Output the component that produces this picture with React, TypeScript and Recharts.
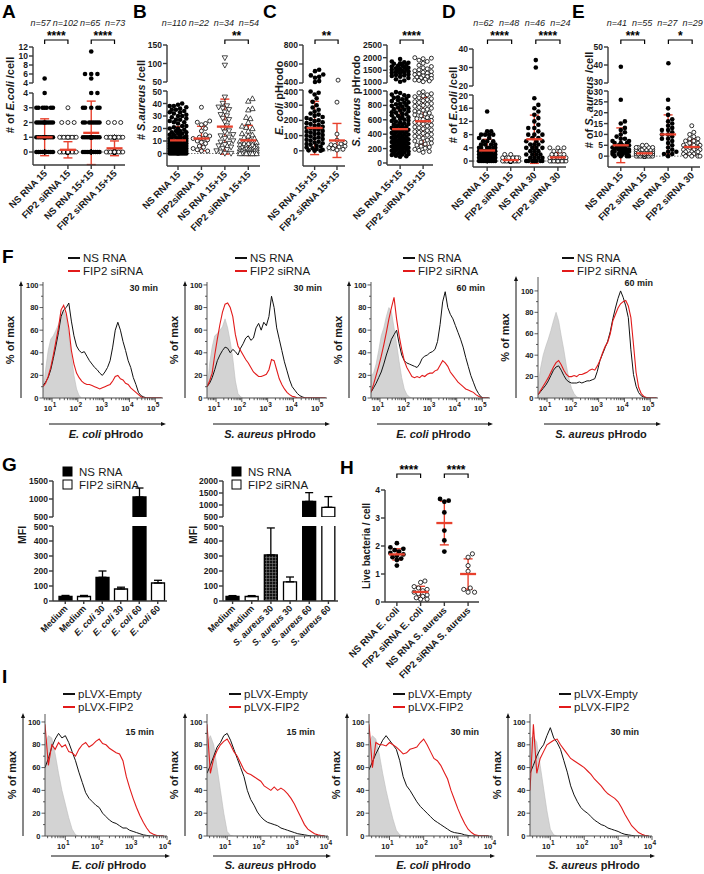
import React from 'react';
import {
  ComposedChart, Scatter, XAxis, YAxis, ErrorBar, ReferenceLine, Bar, Cell, Area, Line,
} from 'recharts';

const FONT = '"Liberation Sans", Arial, Helvetica, sans-serif';
const SD_RED = '#e8402c';
const CURVE_RED = '#e21b1b';
const INK = '#1a1a1a';

type Freq = [number, number][];
const expand = (f: Freq) => f.flatMap(([v, c]) => Array(c).fill(v) as number[]);

// ---------- A: # of E. coli per cell (value, count)
const aCats = ['NS RNA 15', 'FIP2 siRNA 15', 'NS RNA 15+15', 'FIP2 siRNA 15+15'];
const aN = ['n=57', 'n=102', 'n=65', 'n=73'];
const aNs15: Freq = [[0, 22], [1, 16], [2, 10], [3, 7], [4, 1], [5, 1]];
const aFip15: Freq = [[0, 88], [1, 10], [2, 3], [3, 1]];
const aNs1515: Freq = [[0, 27], [1, 18], [2, 8], [3, 5], [4, 2], [5, 1], [6, 3], [11, 1]];
const aFip1515: Freq = [[0, 55], [1, 15], [2, 3]];
const aMean = [1.0, 0.15, 1.3, 0.25];
const aSd = [1.25, 0.55, 2.15, 0.5];

// ---------- B: # S. aureus per cell
const bCats = ['NS RNA 15', 'FIP2siRNA 15', 'NS RNA 15+15', 'FIP2 siRNA 15+15'];
const bN = ['n=110', 'n=22', 'n=34', 'n=54'];
const bNs15: Freq = [[0, 10], [1, 7], [2, 7], [3, 6], [4, 5], [5, 5], [6, 5], [7, 5], [8, 4], [9, 4], [10, 4], [11, 3], [12, 3], [13, 3], [14, 2], [15, 2], [16, 2], [17, 2], [18, 2], [19, 1], [20, 2], [21, 1], [22, 2], [24, 1], [25, 2], [26, 1], [27, 2], [28, 1], [29, 1], [30, 2], [31, 1], [32, 1], [33, 2], [34, 1], [35, 2], [36, 1], [37, 1], [38, 2], [39, 1], [40, 1]];
const bFip15 = [37, 26, 25, 24, 23, 20, 18, 15, 14, 13, 12, 12, 11, 10, 9, 8, 6, 5, 4, 3, 2, 2];
const bNs1515 = [115, 95, 45, 40, 38, 37, 36, 35, 33, 31, 30, 28, 27, 25, 22, 20, 18, 17, 15, 14, 13, 12, 10, 9, 8, 7, 6, 5, 4, 3, 2, 1, 0, 0];
const bFip1515 = [44, 42, 36, 35, 29, 28, 25, 22, 21, 20, 18, 16, 15, 14, 13, 12, 11, 10, 10, 9, 9, 8, 8, 7, 7, 6, 6, 5, 5, 5, 4, 4, 4, 3, 3, 3, 3, 2, 2, 2, 2, 1, 1, 1, 1, 1, 0, 0, 0, 0, 0, 0, 0, 0];
const bMean = [10.5, 12, 21.5, 10.5];
const bSd = [11, 9.8, 22, 12];

// ---------- C: pHrodo intensity
const cCats = ['NS RNA 15+15', 'FIP2 siRNA 15+15'];
const cEcoliNs = [540, 525, 490, 480, 465, 455, 420, 410, 390, 382, 370, 345, 322, 300, 285, 270, 258, 245, 238, 230, 222, 215, 208, 200, 195, 188, 182, 176, 170, 164, 158, 152, 147, 142, 137, 131, 126, 120, 115, 110, 104, 99, 94, 88, 83, 78, 72, 66, 60, 55, 50, 45, 40, 34, 28, 22, 17, 12, 7, 3, 0, 0];
const cEcoliFip = [430, 320, 110, 70, 55, 45, 40, 35, 30, 25, 20, 15, 10, 5];
const cEcoliMean = [150, 68];
const cEcoliSd = [175, 112];
const cAureusNs = [1950, 1850, 1820, 1800, 1780, 1760, 1720, 1700, 1680, 1650, 1620, 1600, 1580, 1560, 1540, 1520, 1500, 1480, 1460, 1440, 1420, 1400, 1380, 1350, 1320, 1300, 1280, 1250, 1200, 1150, 1100, 1050,
  985, 972, 950, 941, 930, 912, 905, 890, 884, 871, 860, 842, 838, 821, 815, 800, 794, 781, 770, 762, 748, 741, 730, 718, 705, 699, 688, 676, 662, 655, 641, 633, 620, 612, 604, 590, 583, 575, 561, 552, 540, 533, 525, 512, 505, 496, 488, 480, 471, 462, 455, 447, 440, 431, 425, 418, 410, 402, 395, 388, 380, 372, 365, 360, 352, 345, 338, 330, 322, 316, 310, 303, 296, 290, 284, 277, 270, 263, 255, 249, 242, 236, 230, 224, 217, 210, 204, 197, 190, 184, 176, 170, 163, 155, 148, 141, 133, 126, 118, 110, 102, 95, 88];
const cAureusFip = [2000, 1980, 1960, 1900, 1850, 1780, 1700, 1650, 1600, 1560, 1520, 1480, 1450, 1420, 1390, 1360, 1330, 1300, 1280, 1250, 1230, 1200, 1180, 1150, 1120, 1100, 1080, 1050,
  990, 975, 962, 948, 930, 921, 905, 893, 880, 866, 852, 840, 826, 815, 800, 788, 772, 760, 745, 733, 720, 706, 694, 680, 668, 655, 641, 630, 616, 604, 590, 578, 563, 551, 540, 526, 513, 500, 488, 475, 461, 450, 437, 425, 411, 398, 386, 372, 360, 345, 332, 318, 305, 290, 276, 262, 248, 233, 220, 205, 190, 176, 160, 148];
const cAureusMean = [470, 580];
const cAureusSd = [285, 330];

// ---------- D: # of E. coli per cell
const dCats = ['NS RNA 15', 'FIP2 siRNA 15', 'NS RNA 30', 'FIP2 siRNA 30'];
const dN = ['n=62', 'n=48', 'n=46', 'n=24'];
const dNs15: Freq = [[0, 14], [1, 10], [2, 9], [3, 7], [4, 6], [5, 4], [6, 3], [7, 2], [8, 4], [9, 2], [15, 1]];
const dFip15: Freq = [[0, 38], [1, 8], [2, 2]];
const dNs30: Freq = [[0, 7], [1, 4], [2, 4], [3, 3], [4, 4], [5, 3], [6, 3], [7, 2], [8, 3], [9, 1], [10, 2], [11, 1], [12, 1], [13, 1], [14, 1], [15, 1], [16, 1], [17, 1], [19, 1], [30, 1], [34, 1]];
const dFip30: Freq = [[0, 10], [1, 6], [2, 3], [3, 2], [4, 3]];
const dMean = [3.2, 0.3, 6.6, 1.1];
const dSd = [3.4, 0.6, 7.3, 1.5];

// ---------- E: # of S. aureus per cell
const eCats = ['NS RNA 15', 'FIP2 siRNA 15', 'NS RNA 30', 'FIP2 siRNA 30'];
const eN = ['n=41', 'n=55', 'n=27', 'n=29'];
const eNs15: Freq = [[0, 4], [1, 4], [2, 5], [3, 5], [4, 4], [5, 3], [6, 3], [7, 2], [8, 2], [9, 1], [10, 1], [11, 1], [12, 1], [13, 1], [15, 1], [16, 1], [26, 1], [39, 1]];
const eFip15: Freq = [[0, 15], [1, 15], [2, 10], [3, 8], [4, 5], [5, 2]];
const eNs30 = [41, 26, 22, 19, 17, 16, 15, 14, 13, 12, 12, 11, 10, 10, 9, 8, 8, 7, 6, 5, 4, 3, 2, 2, 1, 1, 0];
const eFip30 = [14, 11, 10, 9, 8, 8, 7, 7, 6, 6, 5, 5, 5, 4, 4, 4, 3, 3, 3, 2, 2, 2, 1, 1, 1, 0, 0, 0, 0];
const eMean = [5, 1.3, 10, 4.2];
const eSd = [8, 1.4, 9, 3.5];

// ---------- H: live bacteria per cell
const hCats = ['NS RNA E. coli', 'FIP2 siRNA E. coli', 'NS RNA S. aureus', 'FIP2 siRNA S. aureus'];
const hNsEcoli = [2.1, 1.95, 1.9, 1.85, 1.8, 1.75, 1.7, 1.65, 1.6, 1.55, 1.5, 1.3];
const hFipEcoli = [0.75, 0.7, 0.55, 0.5, 0.45, 0.4, 0.35, 0.3, 0.25, 0.2, 0.15, 0.1, 0.1];
const hNsAureus = [3.68, 3.62, 3.58, 3.2, 2.55, 2.2, 1.8];
const hFipAureus = [1.72, 1.6, 1.3, 1.1, 0.5, 0.45, 0.35, 0.35];
const hMean = [1.7, 0.36, 2.82, 1.0];
const hSd = [0.2, 0.2, 0.78, 0.54];

// ---------- G: MFI bars
const gLeftLabels = ['Medium', 'Medium', 'E. coli 30', 'E. coli 30', 'E. coli 60', 'E. coli 60'];
const gLeftMfi = [30, 30, 158, 80, 1055, 120];
const gLeftErr = [7, 7, 42, 12, 250, 18];
const gRightLabels = ['Medium', 'Medium', 'S. aureus 30', 'S. aureus 30', 'S. aureus 60', 'S. aureus 60'];
const gRightMfi = [30, 30, 307, 128, 1150, 905];
const gRightErr = [6, 6, 180, 32, 365, 445];
const gLeftKind = ['ns', 'fip', 'ns', 'fip', 'ns', 'fip'];
const gRightKind = ['ns', 'fip', 'hatch', 'fip', 'ns', 'fip'];

// ---------- F: histograms, x = log10 intensity
const fLog = Array.from({ length: 47 }, (_, i) => Math.round((0.65 + i * 0.1) * 100) / 100);
const f1Black = [11, 14, 18, 25, 35, 46, 58, 72, 78, 80, 84, 68, 55, 46, 42, 40, 41, 37, 33, 30, 27, 25, 22, 20, 23, 27, 33, 45, 60, 67, 60, 50, 42, 33, 27, 18, 12, 5, 2, 1, 0, 0, 0, 0, 0, 0, 0];
const f1Red = [10, 13, 19, 27, 38, 50, 62, 78, 82, 75, 62, 42, 30, 22, 18, 15, 13, 12, 12, 11, 10, 9, 8, 9, 10, 11, 12, 15, 19, 20, 17, 16, 13, 12, 9, 7, 5, 3, 1, 0, 0, 0, 0, 0, 0, 0, 0];
const f1Gray = [5, 25, 42, 52, 55, 60, 65, 72, 77, 72, 55, 38, 20, 8, 2, 0, 0, 0, 0, 0, 0, 0, 0, 0, 0, 0, 0, 0, 0, 0, 0, 0, 0, 0, 0, 0, 0, 0, 0, 0, 0, 0, 0, 0, 0, 0, 0];
const f2Black = [10, 13, 18, 25, 33, 38, 42, 45, 44, 40, 43, 41, 38, 44, 48, 53, 55, 51, 53, 62, 66, 60, 67, 64, 72, 90, 80, 62, 52, 42, 32, 24, 16, 10, 7, 4, 2, 1, 0, 0, 0, 0, 0, 0, 0, 0, 0];
const f2Red = [10, 15, 22, 38, 52, 65, 76, 83, 84, 80, 72, 56, 46, 42, 38, 34, 31, 27, 23, 21, 19, 19, 20, 21, 25, 34, 33, 25, 17, 12, 8, 5, 3, 1.5, 1, 0, 0, 0, 0, 0, 0, 0, 0, 0, 0, 0, 0];
const f2Gray = [5, 30, 45, 55, 57, 60, 63, 70, 62, 50, 35, 15, 4, 1, 0, 0, 0, 0, 0, 0, 0, 0, 0, 0, 0, 0, 0, 0, 0, 0, 0, 0, 0, 0, 0, 0, 0, 0, 0, 0, 0, 0, 0, 0, 0, 0, 0];
const f3Black = [5, 9, 13, 18, 23, 30, 38, 45, 52, 56, 60, 48, 38, 33, 31, 30, 29, 28, 27, 30, 35, 37, 38, 40, 41, 43, 50, 65, 85, 94, 80, 74, 70, 64, 58, 52, 45, 36, 28, 20, 14, 8, 4, 1, 0, 0, 0];
const f3Red = [5, 12, 20, 28, 37, 47, 58, 70, 80, 89, 70, 55, 43, 33, 27, 23, 19, 18, 19, 18, 20, 19, 21, 22, 22, 24, 25, 29, 33, 31, 28, 23, 20, 17, 14, 12, 10, 8, 7, 6, 5, 3, 1.5, 0.5, 0, 0, 0];
const f3Gray = [20, 22, 30, 42, 55, 62, 72, 80, 76, 62, 48, 32, 18, 8, 3, 1, 0, 0, 0, 0, 0, 0, 0, 0, 0, 0, 0, 0, 0, 0, 0, 0, 0, 0, 0, 0, 0, 0, 0, 0, 0, 0, 0, 0, 0, 0, 0];
const f4Black = [3, 6, 9, 12, 16, 21, 26, 29, 30, 26, 21, 17, 15, 14, 14, 14, 15, 14, 15, 16, 16, 17, 18, 25, 35, 41, 47, 53, 62, 74, 84, 93, 100, 94, 86, 75, 45, 22, 11, 5, 2, 1, 0, 0, 0, 0, 0];
const f4Red = [3, 7, 11, 15, 19, 24, 29, 33, 35, 31, 26, 22, 20, 20, 21, 20, 22, 22, 23, 24, 26, 27, 26, 30, 35, 42, 48, 52, 60, 72, 78, 84, 88, 90, 91, 86, 75, 50, 24, 10, 4, 1.5, 0.5, 0, 0, 0, 0];
const f4Gray = [12, 28, 40, 48, 55, 63, 72, 80, 72, 58, 45, 30, 18, 9, 4, 1, 0, 0, 0, 0, 0, 0, 0, 0, 0, 0, 0, 0, 0, 0, 0, 0, 0, 0, 0, 0, 0, 0, 0, 0, 0, 0, 0, 0, 0, 0, 0];

// ---------- I: histograms
const iLog = Array.from({ length: 36 }, (_, i) => Math.round((0.4 + i * 0.1) * 100) / 100);
const i1Black = [60, 68, 78, 85, 90, 86, 88, 82, 74, 66, 56, 47, 38, 33, 30, 27, 25, 20, 17, 14, 12, 11, 9, 7, 7, 5, 4, 3, 2, 1, 0.5, 0, 0, 0, 0, 0];
const i1Red = [98, 62, 80, 76, 82, 78, 80, 74, 73, 70, 76, 80, 82, 78, 80, 83, 85, 81, 80, 77, 75, 73, 72, 66, 52, 42, 33, 25, 18, 12, 7, 3, 1.5, 0.5, 0, 0];
const i1Gray = [80, 88, 86, 72, 55, 40, 28, 16, 6, 1, 0, 0, 0, 0, 0, 0, 0, 0, 0, 0, 0, 0, 0, 0, 0, 0, 0, 0, 0, 0, 0, 0, 0, 0, 0, 0];
const i2Black = [55, 62, 70, 78, 82, 88, 90, 84, 76, 68, 60, 52, 40, 32, 27, 21, 17, 14, 12, 11, 10, 9, 7, 6, 5, 4, 3, 2, 1.5, 1, 0.5, 0, 0, 0, 0, 0];
const i2Red = [98, 55, 68, 75, 80, 83, 85, 80, 74, 70, 64, 58, 55, 54, 52, 50, 48, 44, 42, 40, 43, 40, 42, 40, 37, 33, 28, 22, 16, 10, 6, 4, 2, 1, 0.5, 0];
const i2Gray = [82, 88, 80, 60, 40, 20, 4, 0.5, 0, 0, 0, 0, 0, 0, 0, 0, 0, 0, 0, 0, 0, 0, 0, 0, 0, 0, 0, 0, 0, 0, 0, 0, 0, 0, 0, 0];
const i3Black = [58, 65, 72, 78, 84, 88, 84, 80, 76, 66, 52, 44, 40, 35, 30, 26, 23, 20, 17, 14, 12, 10, 8, 6, 4, 3, 2.5, 2, 1, 0.5, 0, 0, 0, 0, 0, 0];
const i3Red = [98, 60, 82, 80, 80, 79, 82, 80, 78, 75, 72, 73, 76, 77, 78, 82, 85, 80, 74, 68, 66, 62, 56, 50, 40, 32, 24, 17, 11, 6, 3, 1, 0.5, 0, 0, 0];
const i3Gray = [82, 88, 85, 72, 55, 40, 27, 15, 5, 1, 0, 0, 0, 0, 0, 0, 0, 0, 0, 0, 0, 0, 0, 0, 0, 0, 0, 0, 0, 0, 0, 0, 0, 0, 0, 0];
const i4Black = [55, 62, 70, 76, 80, 88, 95, 86, 82, 76, 66, 56, 44, 36, 30, 25, 22, 20, 17, 14, 12, 10, 9, 7, 6, 5, 4, 2.5, 1.5, 1, 0.5, 0, 0, 0, 0, 0];
const i4Red = [40, 98, 55, 68, 74, 80, 82, 84, 85, 80, 76, 72, 68, 66, 64, 62, 60, 57, 54, 50, 47, 44, 40, 37, 35, 33, 30, 25, 19, 14, 9, 6, 3, 1.5, 0.5, 0];
const i4Gray = [85, 88, 82, 62, 42, 22, 6, 1, 0, 0, 0, 0, 0, 0, 0, 0, 0, 0, 0, 0, 0, 0, 0, 0, 0, 0, 0, 0, 0, 0, 0, 0, 0, 0, 0, 0];

// ---------------------------------------------------------------------------
function rich(s: string) {
  const re = /(E\. ?coli|S\. ?aureus)/;
  return s.split(re).filter((p) => p !== '').map((p, i) =>
    re.test(p) ? <tspan key={i} fontStyle="italic">{p}</tspan> : <tspan key={i}>{p}</tspan>);
}

type Seg = { y0: number; y1: number; domain: [number, number]; ticks: number[] };
type DotSpec = {
  axisX: number; rightX: number; xDomain: [number, number];
  top?: Seg; bottom: Seg; split: number;
  groups: number[][]; shapes: string[]; means: number[]; sds: number[];
  cats: string[]; zero: boolean; r: number; maxHalf: number; italicCats?: boolean; yw?: number;
};

function yPx(spec: DotSpec, v: number) {
  const s = spec.top && v > spec.split ? spec.top : spec.bottom;
  const [d0, d1] = s.domain;
  return s.y1 - ((v - d0) / (d1 - d0)) * (s.y1 - s.y0);
}

// deterministic column-scatter layout (pixel offsets)
function swarm(vals: number[], toPx: (v: number) => number, r: number, maxHalf: number) {
  const order = vals.map((_, i) => i).sort((a, b) => vals[a] - vals[b]);
  const step = r * 0.9;
  const cands = [0];
  for (let k = 1; k * step <= maxHalf; k++) cands.push(k * step, -k * step);
  const placed: { x: number; y: number }[] = [];
  const offs = new Array(vals.length).fill(0);
  const minD = 2 * r * 0.92;
  order.forEach((i) => {
    const y = toPx(vals[i]);
    let best = 0;
    let bestScore = -1;
    for (const c of cands) {
      let dmin = Infinity;
      for (const p of placed) {
        if (Math.abs(p.y - y) > minD) continue;
        const d = Math.hypot(p.x - c, p.y - y);
        if (d < dmin) dmin = d;
      }
      if (dmin >= minD) { best = c; break; }
      if (dmin > bestScore) { bestScore = dmin; best = c; }
    }
    placed.push({ x: best, y });
    offs[i] = best;
  });
  return offs;
}

const shapeFor = (kind: string, r: number) => (p: any) => {
  const { cx, cy } = p;
  if (cx == null || cy == null) return <g />;
  if (kind === 'fill') return <circle cx={cx} cy={cy} r={r} fill="#000" />;
  if (kind === 'open') return <circle cx={cx} cy={cy} r={r - 0.3} fill="#fff" stroke="#000" strokeWidth={0.8} />;
  const s = r + 0.4;
  if (kind === 'down') return <path d={`M${cx - s},${cy - s * 0.8}L${cx + s},${cy - s * 0.8}L${cx},${cy + s}Z`} fill="#fff" stroke="#000" strokeWidth={0.7} />;
  return <path d={`M${cx - s},${cy + s * 0.8}L${cx + s},${cy + s * 0.8}L${cx},${cy - s}Z`} fill="#fff" stroke="#000" strokeWidth={0.7} />;
};

const meanShape = (half: number) => (p: any) => {
  const { cx, cy } = p;
  if (cx == null || cy == null) return <g />;
  return <line x1={cx - half} x2={cx + half} y1={cy} y2={cy} stroke={SD_RED} strokeWidth={2.3} />;
};

const rotTick = (labels: string[], size: number, italic: boolean) => (p: any) => {
  const { x, y, payload } = p;
  const lab = labels[payload.value] ?? '';
  return (
    <text transform={`translate(${x + 3},${y + 5}) rotate(-45)`} textAnchor="end" fontSize={size}
      fontWeight="bold" fontFamily={FONT} fill={INK}>
      {italic ? rich(lab) : lab}
    </text>
  );
};

// y tick label; labels at an axis break are nudged away from the gap
const breakTick = (lowNudge: number, highNudge: number, lo: number, hi: number) => (p: any) => {
  const { x, y, payload } = p;
  const v = payload.value;
  const dy = v === lo ? lowNudge : v === hi ? highNudge : 0;
  return (
    <text x={x} y={y + dy + 3} textAnchor="end" fontSize={8.5} fontWeight="bold" fontFamily={FONT} fill={INK}>{v}</text>
  );
};

const axisStyle = { stroke: '#3a3a3a', strokeWidth: 1.4 };

function DotSeg({ spec, seg, part, showX }: { spec: DotSpec; seg: Seg; part: string; showX: boolean }) {
  const yw = spec.yw ?? 50, padT = 6, padR = 4;
  const padB = showX ? 0 : 6;
  const xh = showX ? 90 : 0;
  const w = yw + spec.rightX - spec.axisX + padR;
  const h = padT + seg.y1 - seg.y0 + xh + padB;
  const colPx = (spec.rightX - spec.axisX) / (spec.xDomain[1] - spec.xDomain[0]);
  const keep = (v: number) => (part === 'top' ? v > spec.split : part === 'bottom' ? v <= spec.split : true);
  const series = spec.groups.map((vals, g) => {
    const offs = swarm(vals, (v) => yPx(spec, v), spec.r, spec.maxHalf);
    return vals.map((v, k) => ({ x: g + offs[k] / colPx, y: v })).filter((pt) => keep(pt.y));
  });
  const meanPts = spec.means.map((m, i) => ({ x: i, y: m, e: spec.sds[i] }));
  const gap = spec.top ? spec.bottom.y0 - spec.top.y1 : 99;
  const nudge = Math.max(0, (10 - gap) / 2);
  const tick = part === 'top'
    ? breakTick(-nudge, 0, seg.domain[0], seg.domain[1])
    : part === 'bottom' ? breakTick(0, nudge, seg.domain[0], seg.domain[1]) : breakTick(0, 0, 0, 0);
  return (
    <div style={{ position: 'absolute', left: spec.axisX - yw, top: seg.y0 - padT }}>
      <ComposedChart width={w} height={h} margin={{ top: padT, right: padR, bottom: padB, left: 0 }}>
        <XAxis type="number" dataKey="x" domain={spec.xDomain} ticks={spec.cats.map((_, i) => i)}
          hide={!showX} height={xh} interval={0} tickSize={4} tickMargin={0}
          tick={rotTick(spec.cats, 9.5, !!spec.italicCats)} axisLine={axisStyle} tickLine={axisStyle} />
        <YAxis type="number" dataKey="y" domain={seg.domain} ticks={seg.ticks} width={yw} interval={0}
          tickSize={4} tickMargin={1} tick={tick} axisLine={axisStyle} tickLine={axisStyle} />
        {spec.zero && part !== 'top' && (
          <ReferenceLine y={0} stroke="#777" strokeDasharray="1.5 1.5" strokeWidth={1} />
        )}
        {series.map((pts, g) => (
          <Scatter key={g} data={pts} shape={shapeFor(spec.shapes[g], spec.r)} isAnimationActive={false} />
        ))}
        {part !== 'top' && (
          <Scatter data={meanPts} shape={meanShape(8)} isAnimationActive={false}>
            <ErrorBar dataKey="e" direction="y" width={4.5} stroke={SD_RED} strokeWidth={1.4} />
          </Scatter>
        )}
      </ComposedChart>
    </div>
  );
}

function DotPanel({ spec }: { spec: DotSpec }) {
  return (
    <>
      {spec.top && <DotSeg spec={spec} seg={spec.top} part="top" showX={false} />}
      <DotSeg spec={spec} seg={spec.bottom} part={spec.top ? 'bottom' : 'all'} showX />
    </>
  );
}

const specA: DotSpec = {
  axisX: 33, rightX: 125, xDomain: [-0.5, 3.45], split: 4,
  top: { y0: 47, y1: 83, domain: [4, 12], ticks: [4, 6, 8, 10, 12] },
  bottom: { y0: 93, y1: 165, domain: [-0.88, 4], ticks: [0, 1, 2, 3, 4] },
  groups: [expand(aNs15), expand(aFip15), expand(aNs1515), expand(aFip1515)],
  shapes: ['fill', 'open', 'fill', 'open'], means: aMean, sds: aSd, cats: aCats, zero: true, r: 2.3, maxHalf: 9,
};
const specB: DotSpec = {
  axisX: 167, rightX: 260, xDomain: [-0.47, 3.5], split: 50,
  top: { y0: 45, y1: 82, domain: [50, 150], ticks: [50, 100, 150] },
  bottom: { y0: 91, y1: 166, domain: [-10, 50], ticks: [0, 10, 20, 30, 40, 50] },
  groups: [expand(bNs15), bFip15, bNs1515, bFip1515],
  shapes: ['fill', 'open', 'down', 'up'], means: bMean, sds: bSd, cats: bCats, zero: true, r: 2.3, maxHalf: 9.5,
};
const specC1: DotSpec = {
  axisX: 303, rightX: 345, xDomain: [-0.52, 1.3], split: 400,
  top: { y0: 45, y1: 83, domain: [400, 800], ticks: [400, 600, 800] },
  bottom: { y0: 90, y1: 166, domain: [-100, 400], ticks: [0, 100, 200, 300, 400] },
  groups: [cEcoliNs, cEcoliFip], shapes: ['fill', 'open'], means: cEcoliMean, sds: cEcoliSd,
  cats: cCats, zero: true, r: 2.3, maxHalf: 9,
};
const specC2: DotSpec = {
  axisX: 387, rightX: 433, xDomain: [-0.57, 1.43], split: 1000,
  top: { y0: 45, y1: 83, domain: [1000, 2500], ticks: [1000, 1500, 2000, 2500] },
  bottom: { y0: 91, y1: 165, domain: [-28, 1000], ticks: [0, 200, 400, 600, 800, 1000] },
  groups: [cAureusNs, cAureusFip], shapes: ['fill', 'open'], means: cAureusMean, sds: cAureusSd,
  cats: cCats, zero: false, r: 2.3, maxHalf: 9,
};
const specD: DotSpec = {
  axisX: 473, rightX: 566, xDomain: [-0.6, 3.25], split: 20,
  top: { y0: 49, y1: 86, domain: [20, 40], ticks: [20, 30, 40] },
  bottom: { y0: 95, y1: 167, domain: [-1.8, 20], ticks: [0, 4, 8, 12, 16, 20] },
  groups: [expand(dNs15), expand(dFip15), expand(dNs30), expand(dFip30)],
  shapes: ['fill', 'open', 'fill', 'open'], means: dMean, sds: dSd, cats: dCats, zero: true, r: 2.3, maxHalf: 9,
};
const specE: DotSpec = {
  axisX: 608, rightX: 700, xDomain: [-0.54, 3.33], split: 30,
  top: { y0: 47, y1: 83, domain: [30, 50], ticks: [30, 40, 50] },
  bottom: { y0: 91, y1: 167, domain: [-5, 30], ticks: [0, 5, 10, 15, 20, 25, 30] },
  groups: [expand(eNs15), expand(eFip15), eNs30, eFip30],
  shapes: ['fill', 'open', 'fill', 'open'], means: eMean, sds: eSd, cats: eCats, zero: true, r: 2.3, maxHalf: 9,
};
const specH: DotSpec = {
  axisX: 385, rightX: 479, xDomain: [-0.5, 3.46], split: 100,
  bottom: { y0: 490, y1: 602, domain: [0, 4], ticks: [0, 1, 2, 3, 4] },
  groups: [hNsEcoli, hFipEcoli, hNsAureus, hFipAureus],
  shapes: ['fill', 'open', 'fill', 'open'], means: hMean, sds: hSd, cats: hCats, zero: false, r: 2.4, maxHalf: 8,
};

const colX = (s: DotSpec, i: number) =>
  s.axisX + ((i - s.xDomain[0]) * (s.rightX - s.axisX)) / (s.xDomain[1] - s.xDomain[0]);

// ---------------------------------------------------------------------------
function logTicks(dom: [number, number]) {
  const out: number[] = [];
  for (let d = Math.floor(dom[0]); d <= Math.ceil(dom[1]); d++) {
    for (let k = 1; k <= 9; k++) {
      const t = d + Math.log10(k);
      if (t >= dom[0] - 1e-9 && t <= dom[1] + 1e-9) out.push(Math.round(t * 1000) / 1000);
    }
  }
  return out;
}

const LogTick = (p: any) => {
  const { x, y, payload } = p;
  const v = payload.value;
  const major = Math.abs(v - Math.round(v)) < 1e-6;
  return (
    <g>
      <line x1={x} x2={x} y1={y} y2={y + (major ? 4 : 2.2)} stroke="#333" strokeWidth={0.8} />
      {major && (
        <text x={x - 2} y={y + 13} textAnchor="middle" fontSize={7.5} fontWeight="bold" fontFamily={FONT} fill={INK}>
          10<tspan dy={-4.5} dx={0.5} fontSize={6.5}>{Math.round(v)}</tspan>
        </text>
      )}
    </g>
  );
};

const PctTick = (p: any) => {
  const { x, y, payload } = p;
  const v = payload.value;
  const major = v % 20 === 0;
  return (
    <g>
      <line x1={x - (major ? 3.5 : 2)} x2={x} y1={y} y2={y} stroke="#333" strokeWidth={0.8} />
      {major && (
        <text x={x - 4.5} y={y + 2.7} textAnchor="end" fontSize={7.5} fontWeight="bold" fontFamily={FONT} fill={INK}>{v}</text>
      )}
    </g>
  );
};

type HistCfg = {
  x0: number; x1: number; y0: number; y1: number; yMax: number; xDomain: [number, number];
  grid: number[]; gray: number[]; black: number[]; red: number[];
};

function Hist({ c }: { c: HistCfg }) {
  const yw = 22, xh = 20, padR = 8, padT = 5;
  const rows = c.grid.map((x, i) => ({ x, g: c.gray[i], k: c.black[i], r: c.red[i] }));
  const yTicks = [0, 10, 20, 30, 40, 50, 60, 70, 80, 90, 100];
  return (
    <div style={{ position: 'absolute', left: c.x0 - yw, top: c.y0 - padT }}>
      <ComposedChart width={yw + c.x1 - c.x0 + padR} height={padT + c.y1 - c.y0 + xh} data={rows}
        margin={{ top: padT, right: padR, bottom: 0, left: 0 }}>
        <XAxis type="number" dataKey="x" domain={c.xDomain} ticks={logTicks(c.xDomain)} interval={0}
          tick={LogTick} tickSize={0} tickMargin={0} tickLine={false} axisLine={{ stroke: '#555' }}
          height={xh} allowDataOverflow />
        <XAxis xAxisId="top" orientation="top" type="number" dataKey="x" domain={c.xDomain} tick={false}
          tickLine={false} axisLine={{ stroke: '#aaa' }} height={0} allowDataOverflow />
        <YAxis type="number" domain={[0, c.yMax]} ticks={yTicks} interval={0} tick={PctTick} tickSize={0}
          tickMargin={0} tickLine={false} axisLine={{ stroke: '#555' }} width={yw} allowDataOverflow />
        <YAxis yAxisId="right" orientation="right" type="number" domain={[0, c.yMax]} tick={false}
          tickLine={false} axisLine={{ stroke: '#aaa' }} width={0} allowDataOverflow />
        <Area dataKey="g" type="linear" fill="#d3d3d3" fillOpacity={1} stroke="#bcbcbc" strokeWidth={0.6}
          dot={false} activeDot={false} isAnimationActive={false} />
        <Line dataKey="k" type="linear" stroke="#111" strokeWidth={1} dot={false} activeDot={false} isAnimationActive={false} />
        <Line dataKey="r" type="linear" stroke={CURVE_RED} strokeWidth={1.1} dot={false} activeDot={false} isAnimationActive={false} />
      </ComposedChart>
    </div>
  );
}

const fDom: [number, number] = [0.65, 5.3];
const iDom: [number, number] = [0.4, 4];
const fHists: HistCfg[] = [
  { x0: 43, x1: 163, y0: 282, y1: 398, yMax: 102.6, xDomain: fDom, grid: fLog, gray: f1Gray, black: f1Black, red: f1Red },
  { x0: 207, x1: 327, y0: 282, y1: 398, yMax: 102.6, xDomain: fDom, grid: fLog, gray: f2Gray, black: f2Black, red: f2Red },
  { x0: 371, x1: 490, y0: 282, y1: 398, yMax: 102.6, xDomain: fDom, grid: fLog, gray: f3Gray, black: f3Black, red: f3Red },
  { x0: 538, x1: 658, y0: 277, y1: 398, yMax: 113, xDomain: fDom, grid: fLog, gray: f4Gray, black: f4Black, red: f4Red },
];
const fTimes = ['30 min', '30 min', '60 min', '60 min'];
const fXLabels = ['E. coli pHrodo', 'S. aureus pHrodo', 'E. coli pHrodo', 'S. aureus pHrodo'];
const iHists: HistCfg[] = [
  { x0: 45, x1: 167, y0: 714, y1: 836, yMax: 107, xDomain: iDom, grid: iLog, gray: i1Gray, black: i1Black, red: i1Red },
  { x0: 207, x1: 328, y0: 714, y1: 836, yMax: 107, xDomain: iDom, grid: iLog, gray: i2Gray, black: i2Black, red: i2Red },
  { x0: 369, x1: 492, y0: 714, y1: 836, yMax: 107, xDomain: iDom, grid: iLog, gray: i3Gray, black: i3Black, red: i3Red },
  { x0: 530, x1: 652, y0: 714, y1: 836, yMax: 107, xDomain: iDom, grid: iLog, gray: i4Gray, black: i4Black, red: i4Red },
];
const iTimes = ['15 min', '15 min', '30 min', '30 min'];

// ---------------------------------------------------------------------------
type BarCfg = { axisX: number; rightX: number; labels: string[]; mfi: number[]; err: number[]; kind: string[]; topDomain: [number, number]; topTicks: number[]; padL: number; id: string };

function BarSeg({ c, y0, y1, domain, ticks, showX }: { c: BarCfg; y0: number; y1: number; domain: [number, number]; ticks: number[]; showX: boolean }) {
  const yw = 32, padT = 5, padR = 2;
  const padB = showX ? 0 : 6;
  const xh = showX ? 60 : 0;
  // bars that end below this segment are not drawn in it
  const rows = c.mfi.map((v, i) => ({ i, v: v > domain[0] ? v : null, err: [0, c.err[i]] }));
  const fill = (k: string) => (k === 'ns' ? '#000' : k === 'fip' ? '#fff' : `url(#${c.id})`);
  const tick = showX ? breakTick(0, 0.5, domain[0], domain[1]) : breakTick(-0.5, 0, domain[0], domain[1]);
  return (
    <div style={{ position: 'absolute', left: c.axisX - yw, top: y0 - padT }}>
      <ComposedChart width={yw + c.rightX - c.axisX + padR} height={padT + y1 - y0 + xh + padB} data={rows}
        margin={{ top: padT, right: padR, bottom: padB, left: 0 }}>
        <defs>
          <pattern id={c.id} width={3} height={3} patternUnits="userSpaceOnUse">
            <rect width={3} height={3} fill="#111" />
            <path d="M0,0.5H3M0.5,0V3" stroke="#8a8a8a" strokeWidth={0.5} />
          </pattern>
        </defs>
        <XAxis type="category" dataKey="i" hide={!showX} height={xh} interval={0} tickSize={3} tickMargin={0}
          padding={{ left: c.padL, right: 0 }} tick={rotTick(c.labels, 9, true)} axisLine={axisStyle} tickLine={axisStyle} />
        <YAxis type="number" domain={domain} ticks={ticks} width={yw} interval={0} allowDataOverflow
          tickSize={4} tickMargin={1} tick={tick} axisLine={axisStyle} tickLine={axisStyle} />
        <Bar dataKey="v" barSize={13} isAnimationActive={false}>
          {rows.map((_, i) => (
            <Cell key={i} fill={fill(c.kind[i])} stroke="#000" strokeWidth={1.3} />
          ))}
          <ErrorBar dataKey="err" direction="y" width={4} stroke="#000" strokeWidth={1.3} />
        </Bar>
      </ComposedChart>
    </div>
  );
}

const gLeft: BarCfg = { axisX: 53, rightX: 167, labels: gLeftLabels, mfi: gLeftMfi, err: gLeftErr, kind: gLeftKind, topDomain: [500, 1500], topTicks: [500, 1000, 1500], padL: 3, id: 'hatchL' };
const gRight: BarCfg = { axisX: 223, rightX: 338, labels: gRightLabels, mfi: gRightMfi, err: gRightErr, kind: gRightKind, topDomain: [500, 2000], topTicks: [500, 1000, 1500, 2000], padL: 0, id: 'hatchR' };

function GPanel({ c }: { c: BarCfg }) {
  return (
    <>
      <BarSeg c={c} y0={481} y1={517} domain={c.topDomain} ticks={c.topTicks} showX={false} />
      <BarSeg c={c} y0={526} y1={601} domain={[0, 500]} ticks={[0, 100, 200, 300, 400, 500]} showX />
    </>
  );
}

// ---------------------------------------------------------------------------
function VText({ x, y, size, children, weight = 'bold' }: any) {
  return (
    <text transform={`translate(${x},${y}) rotate(-90)`} textAnchor="middle" dominantBaseline="central"
      fontSize={size} fontWeight={weight} fontFamily={FONT} fill={INK}>{children}</text>
  );
}

function Letter({ x, y, t }: { x: number; y: number; t: string }) {
  return <text x={x} y={y} fontSize={19} fontWeight="bold" fontFamily={FONT} fill="#000">{t}</text>;
}

function Sig({ x0, x1, y, t }: { x0: number; x1: number; y: number; t: string }) {
  return (
    <g>
      <path d={`M${x0},${y + 4}V${y}H${x1}V${y + 4}`} fill="none" stroke="#000" strokeWidth={1.2} />
      <text x={(x0 + x1) / 2} y={y - 0.5} textAnchor="middle" fontSize={12} fontWeight="bold" fontFamily={FONT} fill="#000">{t}</text>
    </g>
  );
}

function HistDecor({ c, time, timeDy, xl, arrowDy, labelDy, legX, legY, legA, legB }: any) {
  const ax = c.x0 - 22;
  return (
    <g>
      <line x1={ax} x2={ax} y1={c.y1} y2={c.y0 + 3} stroke="#111" strokeWidth={1} />
      <path d={`M${ax},${c.y0 - 1}l-2,5h4z`} fill="#111" />
      <VText x={ax - 11} y={(c.y0 + c.y1) / 2} size={11}>% of max</VText>
      <line x1={c.x0 + 6} x2={c.x1} y1={c.y1 + arrowDy} y2={c.y1 + arrowDy} stroke="#111" strokeWidth={1} />
      <path d={`M${c.x1 + 3},${c.y1 + arrowDy}l-5,-2v4z`} fill="#111" />
      <text x={(c.x0 + c.x1) / 2 + 3} y={c.y1 + labelDy} textAnchor="middle" fontSize={11} fontWeight="bold" fontFamily={FONT} fill={INK}>{rich(xl)}</text>
      <text x={c.x1 - timeDy[0]} y={c.y0 + timeDy[1]} textAnchor="end" fontSize={9} fontWeight="bold" fontFamily={FONT} fill={INK}>{time}</text>
      <line x1={legX} x2={legX + 12} y1={legY} y2={legY} stroke="#111" strokeWidth={2} />
      <text x={legX + 15} y={legY + 4} fontSize={11.5} fontFamily={FONT} fill={INK}>{legA}</text>
      <line x1={legX} x2={legX + 12} y1={legY + 13} y2={legY + 13} stroke={CURVE_RED} strokeWidth={2} />
      <text x={legX + 15} y={legY + 17} fontSize={11.5} fontFamily={FONT} fill={INK}>{legB}</text>
    </g>
  );
}

const fLegX = [68, 235, 403, 562];
const iLegX = [63, 229, 393, 559];

function Overlay() {
  const dotSpecs = [
    { s: specA, n: aN, sig: [[0, 1, '****'], [2, 3, '****']] },
    { s: specB, n: bN, sig: [[2, 3, '**']] },
    { s: specC1, n: null, sig: [[0, 1, '**']] },
    { s: specC2, n: null, sig: [[0, 1, '****']] },
    { s: specD, n: dN, sig: [[0, 1, '****'], [2, 3, '****']] },
    { s: specE, n: eN, sig: [[0, 1, '***'], [2, 3, '*']] },
  ];
  return (
    <svg width={704} height={874} style={{ position: 'absolute', left: 0, top: 0, pointerEvents: 'none' }}>
      <Letter x={2} y={18} t="A" />
      <Letter x={133} y={18} t="B" />
      <Letter x={263} y={18} t="C" />
      <Letter x={442} y={18} t="D" />
      <Letter x={572} y={18} t="E" />
      <Letter x={2} y={263} t="F" />
      <Letter x={2} y={471} t="G" />
      <Letter x={340} y={474} t="H" />
      <Letter x={2} y={683} t="I" />

      {dotSpecs.map(({ s, n, sig }, k) => (
        <g key={k}>
          {n && n.map((t, i) => (
            <text key={i} x={colX(s, i) - 4 + i * 1.5} y={26} textAnchor="middle" fontSize={9} fontStyle="italic" fontFamily={FONT} fill={INK}>{t}</text>
          ))}
          {sig.map(([a, b, t], i) => (
            <Sig key={i} x0={colX(s, a as number)} x1={colX(s, b as number)} y={40} t={t as string} />
          ))}
        </g>
      ))}
      <VText x={10} y={95} size={11}>{rich('# of E.coli /cell')}</VText>
      <VText x={141} y={100} size={11}>{rich('# S.aureus /cell')}</VText>
      <VText x={279} y={98} size={11}>{rich('E. coli pHrodo')}</VText>
      <VText x={356} y={101} size={11}>{rich('S. aureus pHrodo')}</VText>
      <VText x={453} y={105} size={11}>{rich('# of E.coli /cell')}</VText>
      <VText x={589} y={100} size={11}>{rich('# of S. aureus /cell')}</VText>

      {fHists.map((c, i) => (
        <HistDecor key={i} c={c} time={fTimes[i]} timeDy={[5, 9]} xl={fXLabels[i]} arrowDy={26} labelDy={40}
          legX={fLegX[i]} legY={258} legA="NS RNA" legB="FIP2 siRNA" />
      ))}
      {iHists.map((c, i) => (
        <HistDecor key={i} c={c} time={iTimes[i]} timeDy={[13, 21]} xl={fXLabels[i]} arrowDy={20} labelDy={33}
          legX={iLegX[i]} legY={694} legA="pLVX-Empty" legB="pLVX-FIP2" />
      ))}

      {[63, 232].map((x, i) => (
        <g key={i}>
          <rect x={x} y={467} width={9} height={9} fill="#000" stroke="#000" />
          <text x={x + 16} y={476} fontSize={11.5} fontFamily={FONT} fill={INK}>NS RNA</text>
          <rect x={x} y={480} width={9} height={9} fill="#fff" stroke="#000" />
          <text x={x + 16} y={489} fontSize={11.5} fontFamily={FONT} fill={INK}>FIP2 siRNA</text>
        </g>
      ))}
      <VText x={22} y={535} size={10.5}>MFI</VText>
      <VText x={193} y={535} size={10.5}>MFI</VText>

      <Sig x0={colX(specH, 0)} x1={colX(specH, 1)} y={474} t="****" />
      <Sig x0={colX(specH, 2)} x1={colX(specH, 3)} y={474} t="****" />
      <VText x={366} y={546} size={10}>Live bacteria / cell</VText>
    </svg>
  );
}

export default function App() {
  return (
    <div style={{ position: 'absolute', left: 0, top: 0, width: 704, height: 874, background: '#fff', overflow: 'hidden', fontFamily: FONT }}>
      {[specA, specB, specC1, specC2, specD, specE, specH].map((s, i) => <DotPanel key={i} spec={s} />)}
      {fHists.map((c, i) => <Hist key={i} c={c} />)}
      {iHists.map((c, i) => <Hist key={i} c={c} />)}
      <GPanel c={gLeft} />
      <GPanel c={gRight} />
      <Overlay />
    </div>
  );
}
